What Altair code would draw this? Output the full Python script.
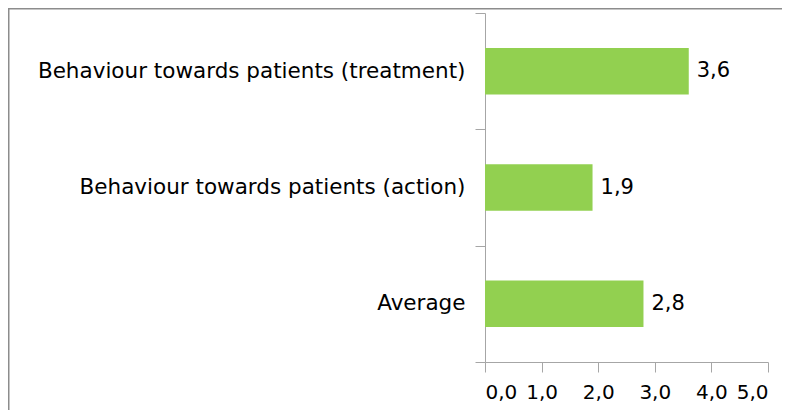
import altair as alt
import pandas as pd

categories = [
    "Behaviour towards patients (treatment)",
    "Behaviour towards patients (action)",
    "Average",
]
values = [3.6, 1.9, 2.8]
x_ticks = [0, 1, 2, 3, 4, 5]

df = pd.DataFrame({"category": categories, "value": values})

FONT = "DejaVu Sans"
AXIS_COLOR = "#a6a6a6"

y_enc = alt.Y(
    "category:N",
    sort=categories,
    title=None,
    scale=alt.Scale(paddingInner=0, paddingOuter=0),
    axis=alt.Axis(
        tickBand="extent",
        domainColor=AXIS_COLOR,
        tickColor=AXIS_COLOR,
        tickSize=10,
        labelFont=FONT,
        labelFontSize=21.5,
        labelColor="#000000",
        labelPadding=10,
        labelLimit=600,
    ),
)

x_enc = alt.X(
    "value:Q",
    title=None,
    scale=alt.Scale(domain=[0, 5], nice=False),
    axis=alt.Axis(
        values=x_ticks,
        grid=False,
        domainColor=AXIS_COLOR,
        tickColor=AXIS_COLOR,
        tickSize=10,
        labelFont=FONT,
        labelFontSize=20,
        labelColor="#000000",
        labelPadding=10,
        labelExpr="replace(format(datum.value, '.1f'), '.', ',')",
    ),
)

bars = (
    alt.Chart(df)
    .mark_bar(color="#92d050", height=alt.RelativeBandSize(0.4))
    .encode(x=x_enc, y=y_enc)
)

text = (
    alt.Chart(df)
    .transform_calculate(lbl="replace(format(datum.value, '.1f'), '.', ',')")
    .mark_text(align="left", baseline="middle", dx=8, font=FONT, fontSize=21, color="#000000")
    .encode(x="value:Q", y=alt.Y("category:N", sort=categories), text="lbl:N")
)

frame = (
    alt.Chart(pd.DataFrame({"f": [0]}))
    .mark_rect(fill=None, stroke="#8c8c8c", strokeWidth=1.5, clip=False)
    .encode(x=alt.value(-476.25), y=alt.value(-4.25), x2=alt.value(900), y2=alt.value(900))
)

chart = (
    alt.layer(frame, bars, text)
    .properties(
        width=283,
        height=349,
        autosize=alt.AutoSizeParams(type="none"),
        padding={"left": 477, "top": 5, "right": 14, "bottom": 48},
    )
    .configure_view(stroke=None)
)

chart.save("out.html", embed_options={"renderer": "svg", "actions": False})
